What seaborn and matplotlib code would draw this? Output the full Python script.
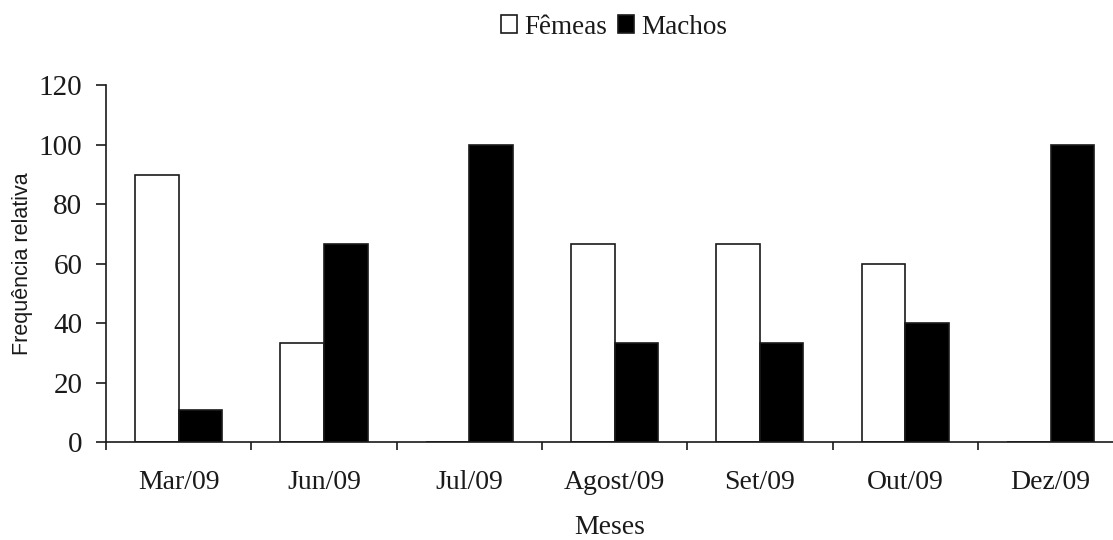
import seaborn as sns
import matplotlib.pyplot as plt
import pandas as pd
from matplotlib.ticker import FixedLocator
from matplotlib.patches import Patch

meses = ['Mar/09', 'Jun/09', 'Jul/09', 'Agost/09', 'Set/09', 'Out/09', 'Dez/09']
femeas = [89.8, 33.3, 0, 66.7, 66.7, 60.0, 0]
machos = [10.8, 66.7, 100, 33.3, 33.3, 40.0, 100]
sexos = ['Fêmeas', 'Machos']

df = pd.DataFrame({
    'Meses': meses * 2,
    'Sexo': [sexos[0]] * len(meses) + [sexos[1]] * len(meses),
    'Freq': femeas + machos,
})

sns.set_style('white')
plt.rcParams['font.family'] = ['Liberation Serif', 'DejaVu Serif']
ink = '#1a1a1a'

fig = plt.figure(figsize=(11.13, 5.4), dpi=100)
ax = fig.add_axes([0.0952, 0.1815, 0.9048, 0.6605])

sns.barplot(
    data=df, x='Meses', y='Freq', hue='Sexo', order=meses, hue_order=sexos,
    palette={'Fêmeas': 'white', 'Machos': 'black'},
    width=0.6, edgecolor=ink, linewidth=1.2, legend=False, ax=ax
)

ax.set_xlim(-0.5, 6.43)
ax.set_ylim(0, 120)
ax.set_yticks(range(0, 121, 20))
ax.xaxis.set_minor_locator(FixedLocator([i - 0.5 for i in range(len(meses) + 1)]))
ax.tick_params(axis='x', which='major', length=0, pad=20, labelsize=20, colors=ink)
ax.tick_params(axis='x', which='minor', length=6, width=1.2, direction='out', color=ink, bottom=True)
ax.tick_params(axis='y', which='major', length=7, width=1.2, direction='out', pad=10,
               labelsize=21, colors=ink, left=True)

for s in ['top', 'right']:
    ax.spines[s].set_visible(False)
for s in ['left', 'bottom']:
    ax.spines[s].set_color(ink)
    ax.spines[s].set_linewidth(1.2)

ax.set_xlabel('Meses', fontsize=20, color=ink)
ax.set_ylabel('Frequência relativa', fontsize=15.5, color=ink, labelpad=4,
              family=['Liberation Sans', 'DejaVu Sans'])
ax.xaxis.set_label_coords(0.5, -0.205)

handles = [Patch(facecolor='white', edgecolor=ink, linewidth=1.2),
           Patch(facecolor='black', edgecolor=ink, linewidth=1.2)]
fig.legend(handles, sexos, loc='center', bbox_to_anchor=(0.5517, 0.95), ncol=2,
           frameon=False, fontsize=19.5, handlelength=0.6, handleheight=0.6,
           handletextpad=0.25, columnspacing=0.4, labelcolor=ink)

fig.savefig('out.png', dpi=100)
